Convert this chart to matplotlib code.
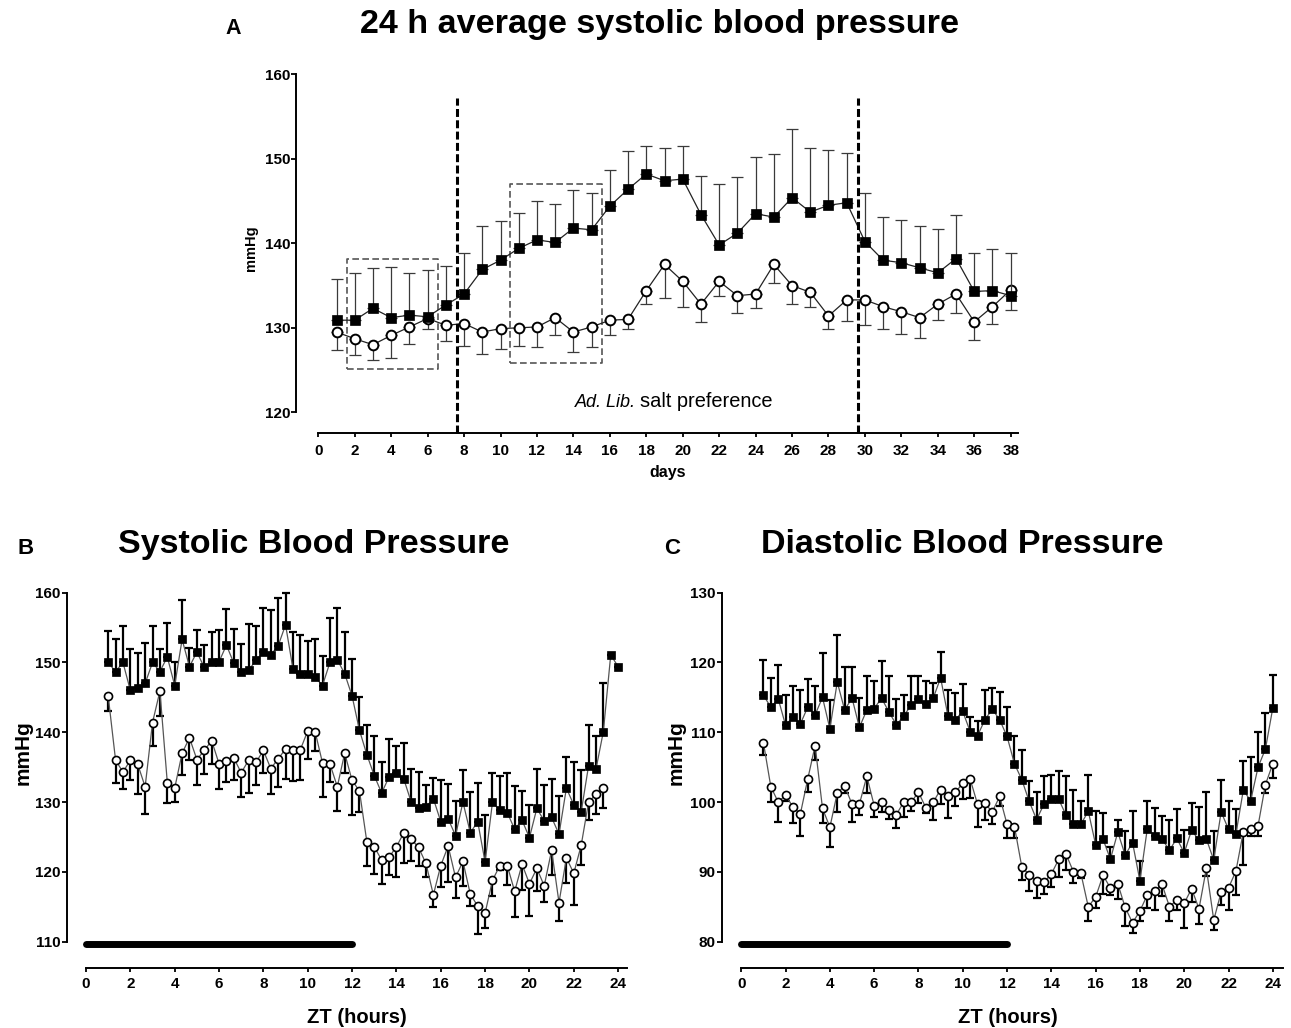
import matplotlib
matplotlib.use("Agg")
import matplotlib.pyplot as plt
import numpy as np

plt.rcParams['font.family'] = ['Liberation Sans', 'DejaVu Sans']

# ---------------- data: panel A (24 h average systolic BP) ----------------
days = list(range(1, 39))
a_salt = [130.9, 130.9, 132.3, 131.2, 131.5, 131.3, 132.7, 134.0, 136.9, 138.0,
          139.4, 140.4, 140.1, 141.8, 141.6, 144.4, 146.4, 148.2, 147.4, 147.6,
          143.4, 139.8, 141.2, 143.5, 143.1, 145.4, 143.7, 144.5, 144.8, 140.2,
          138.0, 137.7, 137.1, 136.5, 138.2, 134.3, 134.4, 133.8]
a_salt_err = [4.9, 5.6, 4.8, 6.0, 5.0, 5.5, 4.6, 4.8, 5.1, 4.6,
              4.2, 4.6, 4.6, 4.5, 4.4, 4.3, 4.5, 3.3, 3.9, 3.9,
              4.6, 7.2, 6.6, 6.7, 7.5, 8.1, 7.6, 6.5, 5.9, 5.8,
              5.1, 5.1, 4.9, 5.2, 5.1, 4.6, 4.9, 5.1]
a_ctrl = [129.5, 128.7, 128.0, 129.1, 130.1, 131.1, 130.3, 130.5, 129.5, 129.9,
          130.0, 130.1, 131.2, 129.5, 130.1, 130.9, 131.0, 134.4, 137.5, 135.5,
          132.8, 135.5, 133.8, 134.0, 137.5, 135.0, 134.2, 131.4, 133.3, 133.3,
          132.5, 131.9, 131.2, 132.8, 134.0, 130.7, 132.5, 134.5]
a_ctrl_err = [2.1, 1.9, 1.8, 2.7, 2.0, 1.3, 1.9, 2.7, 2.6, 2.4,
              2.1, 2.4, 2.1, 2.4, 2.4, 1.8, 1.2, 1.6, 4.0, 3.0,
              2.1, 1.7, 2.0, 1.7, 2.2, 2.2, 1.7, 1.6, 2.5, 3.0,
              2.7, 2.6, 2.4, 1.9, 2.3, 2.2, 2.0, 2.4]

# ---------------- data: panels B / C (ZT profile, 20-min bins) ----------------
zt_hours = [1 + i / 3 for i in range(70)]

b_salt = [150.0, 148.7, 150.0, 146.0, 146.4, 147.0, 150.0, 148.7, 150.8, 146.7,
          153.3, 149.4, 151.5, 149.3, 150.0, 150.1, 152.5, 149.9, 148.7, 148.9,
          150.3, 151.5, 151.1, 152.4, 155.4, 149.1, 148.4, 148.4, 147.9, 146.7,
          150.0, 150.4, 148.4, 145.2, 140.3, 136.8, 133.8, 131.3, 133.6, 134.1,
          133.3, 130.0, 129.2, 129.3, 130.5, 127.2, 127.6, 125.2, 130.0, 125.6,
          127.2, 121.4, 130.0, 128.8, 128.5, 126.1, 127.4, 124.9, 129.1, 127.3,
          127.8, 125.4, 132.0, 129.6, 128.6, 135.2, 134.7, 140.1, 151.1, 149.4]
b_salt_err = [4.5, 4.6, 5.3, 6.0, 4.9, 5.8, 5.3, 3.2, 4.9, 3.3,
              5.7, 2.7, 3.1, 3.2, 4.3, 4.5, 5.1, 4.9, 3.9, 6.6,
              4.9, 6.3, 6.4, 6.9, 4.5, 5.2, 5.6, 4.7, 5.5, 4.2,
              6.4, 7.4, 6.0, 5.3, 4.8, 4.2, 5.6, 4.4, 5.4, 4.0,
              5.2, 4.7, 5.1, 3.2, 2.9, 5.9, 5.0, 4.9, 4.6, 5.8,
              5.5, 6.7, 4.2, 4.9, 5.7, 6.2, 4.2, 4.7, 5.6, 5.2,
              5.5, 5.4, 4.4, 6.1, 6.0, 5.9, 4.8, 6.9, 0.0, 0.0]
b_ctrl = [145.2, 136.0, 134.3, 136.0, 135.4, 132.2, 141.4, 145.9, 132.8, 132.0,
          137.0, 139.2, 136.1, 137.4, 138.8, 135.5, 135.9, 136.3, 134.2, 136.0,
          135.7, 137.4, 134.8, 136.2, 137.6, 137.5, 137.5, 140.2, 140.1, 135.6,
          135.5, 132.2, 137.0, 133.1, 131.6, 124.3, 123.6, 121.7, 122.1, 123.6,
          125.6, 124.7, 123.5, 121.2, 116.7, 120.9, 123.7, 119.2, 121.5, 116.8,
          115.1, 114.1, 118.8, 120.9, 120.9, 117.2, 121.1, 118.3, 120.5, 118.0,
          123.1, 115.6, 122.0, 119.8, 123.8, 130.0, 131.1, 132.0]
b_ctrl_err = [2.2, 3.3, 2.4, 2.8, 4.3, 3.9, 3.3, 3.6, 3.0, 2.0,
              3.1, 3.1, 3.7, 3.4, 3.3, 3.6, 3.0, 3.2, 3.5, 4.7,
              3.3, 3.2, 3.7, 4.0, 4.3, 4.5, 4.4, 4.0, 2.8, 4.9,
              2.6, 3.5, 2.8, 4.9, 3.0, 3.5, 3.9, 3.4, 2.6, 4.3,
              4.4, 3.1, 2.6, 1.9, 1.8, 3.1, 5.1, 3.0, 3.5, 1.7,
              4.0, 2.2, 2.3, 0.6, 2.8, 3.6, 3.7, 4.6, 3.3, 2.3,
              3.5, 2.6, 3.6, 4.6, 2.8, 2.5, 2.8, 2.9]

c_salt = [115.3, 113.6, 114.8, 111.0, 112.2, 111.2, 113.6, 112.5, 115.0, 110.5,
          117.2, 113.2, 114.9, 110.7, 113.2, 113.4, 114.9, 112.9, 111.1, 112.3,
          113.9, 114.7, 114.0, 114.9, 117.8, 112.3, 111.8, 113.0, 110.1, 109.5,
          111.8, 113.3, 111.8, 109.4, 105.5, 103.2, 100.1, 97.5, 99.7, 100.5,
          100.4, 98.1, 96.8, 96.8, 98.7, 93.9, 94.7, 91.8, 95.7, 92.4,
          94.2, 88.7, 96.2, 95.2, 94.7, 93.1, 94.8, 92.7, 96.0, 94.5,
          94.7, 91.7, 98.6, 96.1, 95.4, 101.7, 100.2, 105.0, 107.6, 113.5]
c_salt_err = [5.1, 4.2, 4.9, 4.4, 4.5, 4.9, 4.0, 4.2, 6.4, 4.1,
              6.8, 6.2, 4.5, 4.2, 4.8, 4.0, 5.3, 5.1, 3.6, 3.1,
              4.1, 3.3, 3.4, 2.1, 3.7, 3.7, 3.9, 3.9, 2.1, 2.1,
              4.3, 3.1, 4.0, 4.2, 4.0, 4.3, 2.9, 3.9, 4.0, 3.4,
              4.0, 5.6, 5.0, 3.3, 5.2, 4.8, 3.8, 1.7, 1.8, 3.4,
              4.5, 2.9, 4.0, 4.0, 3.3, 4.3, 4.2, 3.3, 3.8, 4.8,
              6.8, 4.2, 4.6, 4.0, 3.6, 4.2, 6.3, 5.1, 5.1, 4.7]
c_ctrl = [108.5, 102.2, 100.0, 101.0, 99.3, 98.3, 103.3, 108.1, 99.1, 96.4,
          101.3, 102.3, 99.7, 99.7, 103.7, 99.5, 100.0, 98.9, 98.2, 100.0,
          100.0, 101.4, 99.2, 100.0, 101.8, 100.9, 101.4, 102.7, 103.3, 99.7,
          99.8, 98.6, 100.8, 96.8, 96.5, 90.7, 89.6, 88.7, 88.5, 89.7,
          91.8, 92.5, 90.0, 89.8, 85.0, 86.4, 89.5, 87.7, 88.3, 84.9,
          82.7, 84.4, 86.7, 87.3, 88.2, 85.0, 86.0, 85.5, 87.6, 84.7,
          90.5, 83.1, 87.1, 87.7, 90.1, 95.7, 96.1, 96.6, 102.5, 105.5]
c_ctrl_err = [1.8, 2.2, 2.8, 0.9, 2.3, 3.2, 1.9, 2.0, 2.1, 2.8,
              2.7, 1.0, 2.5, 1.5, 2.4, 1.7, 1.4, 1.3, 1.9, 2.2,
              1.3, 1.6, 0.7, 2.5, 2.1, 3.2, 2.0, 2.3, 2.7, 3.2,
              2.3, 1.8, 1.4, 2.0, 1.6, 1.8, 2.4, 2.5, 1.6, 1.9,
              2.6, 2.2, 1.6, 0.7, 2.1, 1.6, 2.6, 1.0, 2.2, 2.7,
              1.5, 1.5, 1.9, 2.8, 1.7, 2.0, 1.5, 3.6, 1.9, 2.1,
              1.1, 1.4, 1.8, 3.2, 3.4, 4.7, 1.0, 1.5, 1.2, 2.1]

a_xticks = list(range(0, 39, 2))
a_yticks = [120, 130, 140, 150, 160]
zt_ticks = list(range(0, 25, 2))
b_yticks = [110, 120, 130, 140, 150, 160]
c_yticks = [80, 90, 100, 110, 120, 130]

# ---------------- figure ----------------
W, H = 1291, 1028
fig = plt.figure(figsize=(W / 100, H / 100), dpi=100)


def px_axes(left, top, right, bottom):
    return fig.add_axes([left / W, 1 - bottom / H, (right - left) / W, (bottom - top) / H])


def ftext(x, y, s, **kw):
    return fig.text(x / W, 1 - y / H, s, **kw)


def style_axes(ax, xlim, ylim, xticks, yticks, xpad, ypad):
    ax.set_xlim(*xlim)
    ax.set_ylim(*ylim)
    for s in ('top', 'right'):
        ax.spines[s].set_visible(False)
    for s in ('left', 'bottom'):
        ax.spines[s].set_linewidth(1.4)
    ax.spines['left'].set_bounds(yticks[0], yticks[-1])
    ax.spines['bottom'].set_bounds(0, xlim[1])
    ax.set_xticks(xticks)
    ax.set_yticks(yticks)
    ax.tick_params(axis='both', direction='out', width=1.3, labelsize=11)
    ax.tick_params(axis='x', length=3.2, pad=xpad)
    ax.tick_params(axis='y', length=3.5, pad=ypad)
    for lab in ax.get_xticklabels() + ax.get_yticklabels():
        lab.set_fontweight('bold')
    ax.patch.set_visible(False)


def draw_series(ax, x, y, err, marker, up, ms, mew, lcol, lw, ecol, elw, cap, z):
    err = np.asarray(err)
    zeros = np.zeros_like(err)
    yerr = [zeros, err] if up else [err, zeros]
    ax.errorbar(x, y, yerr=yerr, fmt='none', ecolor=ecol, elinewidth=elw,
                capsize=cap, capthick=elw, zorder=z, clip_on=False)
    if marker == 's':
        ax.plot(x, y, color=lcol, lw=lw, marker='s', ms=ms, mfc='black',
                mec='black', mew=0.5, zorder=z + 1, clip_on=False)
    else:
        ax.plot(x, y, color=lcol, lw=lw, marker='o', ms=ms, mfc='white',
                mec='black', mew=mew, zorder=z + 1, clip_on=False)


# ---------------- Panel A ----------------
axA = px_axes(296, 74.3, 1018, 433)
style_axes(axA, (-1.224, 38.40), (117.55, 160), a_xticks, a_yticks, xpad=4.5, ypad=0.6)
draw_series(axA, days, a_ctrl, a_ctrl_err, 'o', False, 7.0, 1.4, '#222222', 0.9,
            '#3a3a3a', 0.9, 4.5, 3)
draw_series(axA, days, a_salt, a_salt_err, 's', True, 6.5, 1.0, '#222222', 0.9,
            '#3a3a3a', 0.9, 4.5, 5)
for xv in (7.63, 29.64):
    axA.plot([xv, xv], [117.55, 157.2], color='black', lw=2.2,
             ls=(0, (2.6, 1.1)), zorder=8, clip_on=False)
for (x0, x1, y0, y1) in ((1.59, 6.59, 125.1, 138.1), (10.52, 15.59, 125.8, 147.0)):
    axA.plot([x0, x1, x1, x0, x0], [y0, y0, y1, y1, y0], color='#555555', lw=1.2,
             ls=(0, (4, 2)), zorder=2, clip_on=False)

ftext(233, 34.3, 'A', fontsize=15.5, fontweight='bold', ha='center', va='baseline')
ftext(659, 33.3, '24 h average systolic blood pressure', fontsize=24.6, fontweight='bold',
      ha='center', va='baseline')
ftext(250.7, 248, 'mmHg', fontsize=10.5, fontweight='bold', rotation=90,
      ha='center', va='center')
ftext(668, 477.5, 'days', fontsize=11.5, fontweight='bold', ha='center', va='baseline')
ftext(575, 406.7, 'Ad. Lib.', fontsize=13, style='italic', ha='left', va='baseline')
ftext(640, 406.7, 'salt preference', fontsize=14.4, ha='left', va='baseline')

# ---------------- Panel B ----------------
axB = px_axes(66.7, 592.7, 627, 967.7)
style_axes(axB, (-0.871, 24.40), (106.27, 160), zt_ticks, b_yticks, xpad=3.5, ypad=0.8)
draw_series(axB, zt_hours[:len(b_ctrl)], b_ctrl, b_ctrl_err, 'o', False, 5.8, 1.2,
            '#555555', 0.9, 'black', 1.6, 2.8, 3)
draw_series(axB, zt_hours, b_salt, b_salt_err, 's', True, 5.3, 1.0,
            '#555555', 0.9, 'black', 1.6, 2.8, 5)
axB.plot([0, 12], [109.67, 109.67], color='black', lw=5, solid_capstyle='round',
         zorder=6, clip_on=False)

ftext(26, 554, 'B', fontsize=16, fontweight='bold', ha='center', va='baseline')
ftext(313.5, 553, 'Systolic Blood Pressure', fontsize=24.5, fontweight='bold',
      ha='center', va='baseline')
ftext(23, 753, 'mmHg', fontsize=15, fontweight='bold', rotation=90, ha='center', va='center')
ftext(356.7, 1022.7, 'ZT (hours)', fontsize=14.5, fontweight='bold', ha='center', va='baseline')

# ---------------- Panel C ----------------
axC = px_axes(721.7, 592.7, 1283, 967.7)
style_axes(axC, (-0.885, 24.46), (76.27, 130), zt_ticks, c_yticks, xpad=3.5, ypad=0.8)
draw_series(axC, zt_hours, c_ctrl, c_ctrl_err, 'o', False, 5.8, 1.2,
            '#555555', 0.9, 'black', 1.6, 2.8, 3)
draw_series(axC, zt_hours, c_salt, c_salt_err, 's', True, 5.3, 1.0,
            '#555555', 0.9, 'black', 1.6, 2.8, 5)
axC.plot([0, 12], [79.67, 79.67], color='black', lw=5, solid_capstyle='round',
         zorder=6, clip_on=False)

ftext(671.7, 554, 'C', fontsize=16, fontweight='bold', ha='center', va='baseline')
ftext(962.5, 553, 'Diastolic Blood Pressure', fontsize=24.5, fontweight='bold',
      ha='center', va='baseline')
ftext(676, 753, 'mmHg', fontsize=15, fontweight='bold', rotation=90, ha='center', va='center')
ftext(1008, 1022.7, 'ZT (hours)', fontsize=14.5, fontweight='bold', ha='center', va='baseline')

fig.savefig('out.png', dpi=100)
